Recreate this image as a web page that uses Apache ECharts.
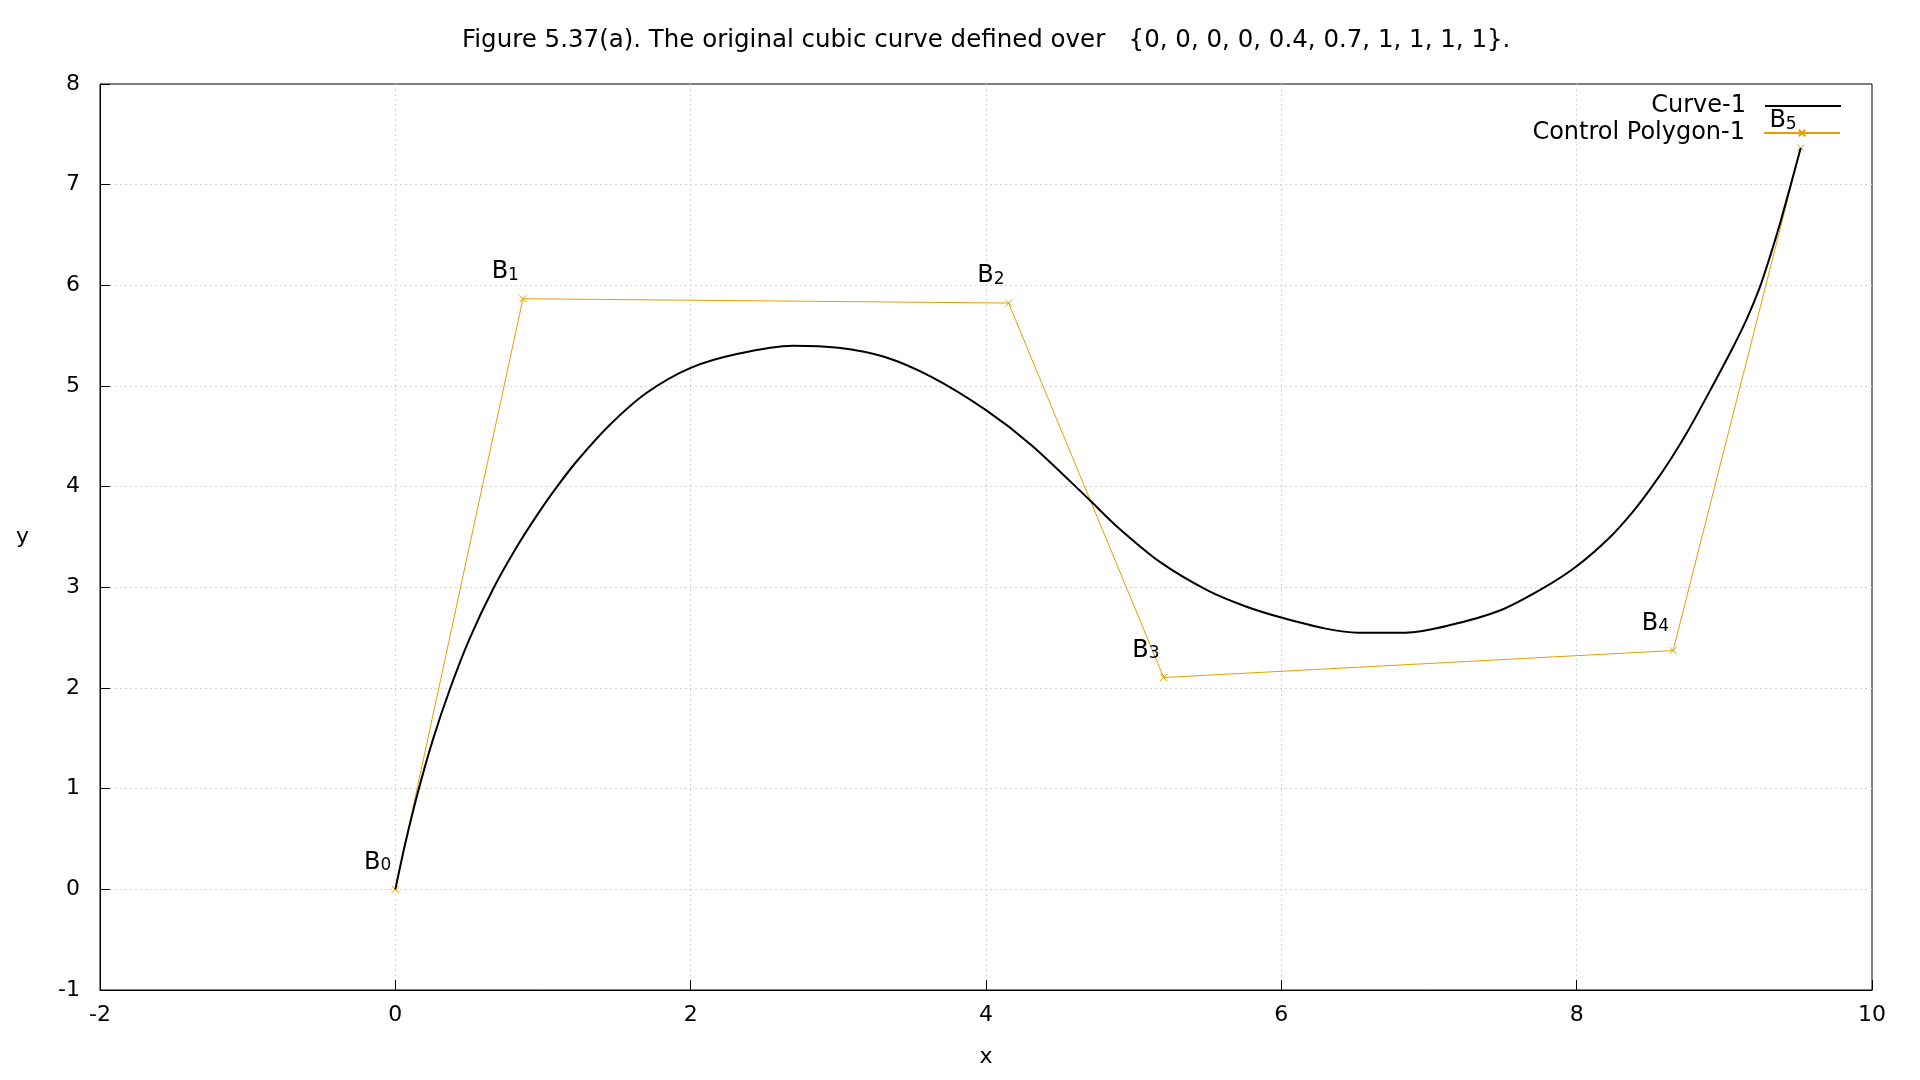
<!DOCTYPE html>
<html>
<head>
<meta charset="utf-8">
<script src="https://cdn.jsdelivr.net/npm/echarts@6/dist/echarts.min.js"></script>
<style>html,body{margin:0;padding:0;background:#fff}#c{width:1920px;height:1080px}</style>
</head>
<body>
<div id="c"></div>
<script>
// ---- data ----
const titleText = 'Figure 5.37(a). The original cubic curve defined over   {0, 0, 0, 0, 0.4, 0.7, 1, 1, 1, 1}.';
const curveName = 'Curve-1';
const polygonName = 'Control Polygon-1';

const curveX = [0, 0.068, 0.152, 0.255, 0.37, 0.503, 0.668, 0.83, 0.97, 1.09, 1.233, 1.45, 1.70, 2.0, 2.32, 2.69, 3.0, 3.31, 3.63, 4.0, 4.31, 4.70, 4.89, 5.18, 5.50, 5.76, 6.0, 6.30, 6.52, 6.84, 7.13, 7.48, 7.77, 8.0, 8.22, 8.38, 8.51, 8.64, 8.76, 8.92, 9.05, 9.15, 9.24, 9.31, 9.38, 9.45, 9.517];
const curveY = [0, 0.46, 0.96, 1.49, 1.99, 2.49, 3.0, 3.42, 3.74, 3.99, 4.26, 4.61, 4.93, 5.18, 5.32, 5.40, 5.38, 5.29, 5.09, 4.76, 4.41, 3.87, 3.60, 3.25, 2.97, 2.81, 2.70, 2.59, 2.55, 2.55, 2.62, 2.77, 2.99, 3.21, 3.49, 3.75, 4.0, 4.28, 4.57, 5.0, 5.36, 5.66, 5.98, 6.29, 6.63, 7.0, 7.364];

const ctrlX = [0, 0.864, 4.153, 5.203, 8.653, 9.517];
const ctrlY = [0, 5.867, 5.824, 2.104, 2.372, 7.364];
const ctrlSub = ['0', '1', '2', '3', '4', '5'];

const xTicks = { min: -2, max: 10, interval: 2 };
const yTicks = { min: -1, max: 8, interval: 1 };

// ---- chart ----
const FONT = 'DejaVu Sans';
const ORANGE = '#e69f00';
const chart = echarts.init(document.getElementById('c'), null, { renderer: 'canvas' });

const curveData = curveX.map((x, i) => [x, curveY[i]]);
const ctrlData = ctrlX.map((x, i) => [x, ctrlY[i]]);

const gridLine = { show: true, showMinLine: false, showMaxLine: false, lineStyle: { color: '#d4d4d4', width: 1, type: [2, 3] } };
const legendText = { fontFamily: FONT, fontSize: 24, color: '#000', lineHeight: 26, padding: [0, 14, 0, 0] };

chart.setOption({
  backgroundColor: '#ffffff',
  animation: false,
  title: {
    text: titleText,
    left: 457,
    top: 23,
    textStyle: { fontFamily: FONT, fontSize: 24.5, fontWeight: 'normal', color: '#000' }
  },
  legend: [
    {
      orient: 'vertical',
      right: 74,
      top: 88,
      align: 'right',
      itemWidth: 76,
      itemHeight: 2,
      icon: 'rect',
      textStyle: legendText,
      data: [curveName]
    },
    {
      orient: 'vertical',
      right: 74,
      top: 115,
      align: 'right',
      itemWidth: 76,
      itemHeight: 8,
      textStyle: legendText,
      data: [polygonName]
    }
  ],
  grid: {
    left: 100, right: 48, top: 84, bottom: 90,
    show: true, borderColor: '#000', borderWidth: 1, backgroundColor: 'transparent'
  },
  xAxis: {
    type: 'value',
    min: xTicks.min, max: xTicks.max, interval: xTicks.interval,
    name: 'x',
    nameLocation: 'middle',
    nameGap: 56,
    nameTextStyle: { fontFamily: FONT, fontSize: 22, color: '#000' },
    axisLine: { show: true, onZero: false, lineStyle: { color: '#000', width: 1 } },
    axisTick: { show: true, inside: true, length: 10, lineStyle: { color: '#000' } },
    axisLabel: { fontFamily: FONT, fontSize: 22, color: '#000', margin: 14 },
    splitLine: gridLine
  },
  yAxis: {
    type: 'value',
    min: yTicks.min, max: yTicks.max, interval: yTicks.interval,
    name: 'y',
    nameLocation: 'middle',
    nameGap: 71,
    nameRotate: 0,
    nameTextStyle: { fontFamily: FONT, fontSize: 22, color: '#000' },
    axisLine: { show: true, onZero: false, lineStyle: { color: '#000', width: 1 } },
    axisTick: { show: true, inside: true, length: 10, lineStyle: { color: '#000' } },
    axisLabel: { fontFamily: FONT, fontSize: 22, color: '#000', margin: 20 },
    splitLine: gridLine
  },
  series: [
    {
      name: curveName,
      type: 'line',
      data: curveData,
      smooth: 0.3,
      symbol: 'none',
      color: '#000',
      lineStyle: { color: '#000', width: 2 },
      z: 3
    },
    {
      name: polygonName,
      type: 'line',
      data: ctrlData,
      symbol: 'path://M0,0L10,10M0,10L10,0',
      symbolSize: 7,
      color: ORANGE,
      lineStyle: { color: ORANGE, width: 1 },
      itemStyle: { color: 'rgba(0,0,0,0)', borderColor: ORANGE, borderWidth: 1 },
      label: {
        show: true,
        position: 'left',
        distance: 0,
        offset: [0, -27],
        formatter: p => '{b|B}{s|' + ctrlSub[p.dataIndex] + '}',
        rich: {
          b: { fontFamily: FONT, fontSize: 24, color: '#000', lineHeight: 24, verticalAlign: 'top' },
          s: { fontFamily: FONT, fontSize: 17, color: '#000', lineHeight: 18, padding: [14, 0, 0, 0], verticalAlign: 'bottom' }
        }
      },
      z: 2
    }
  ]
});
</script>
</body>
</html>
